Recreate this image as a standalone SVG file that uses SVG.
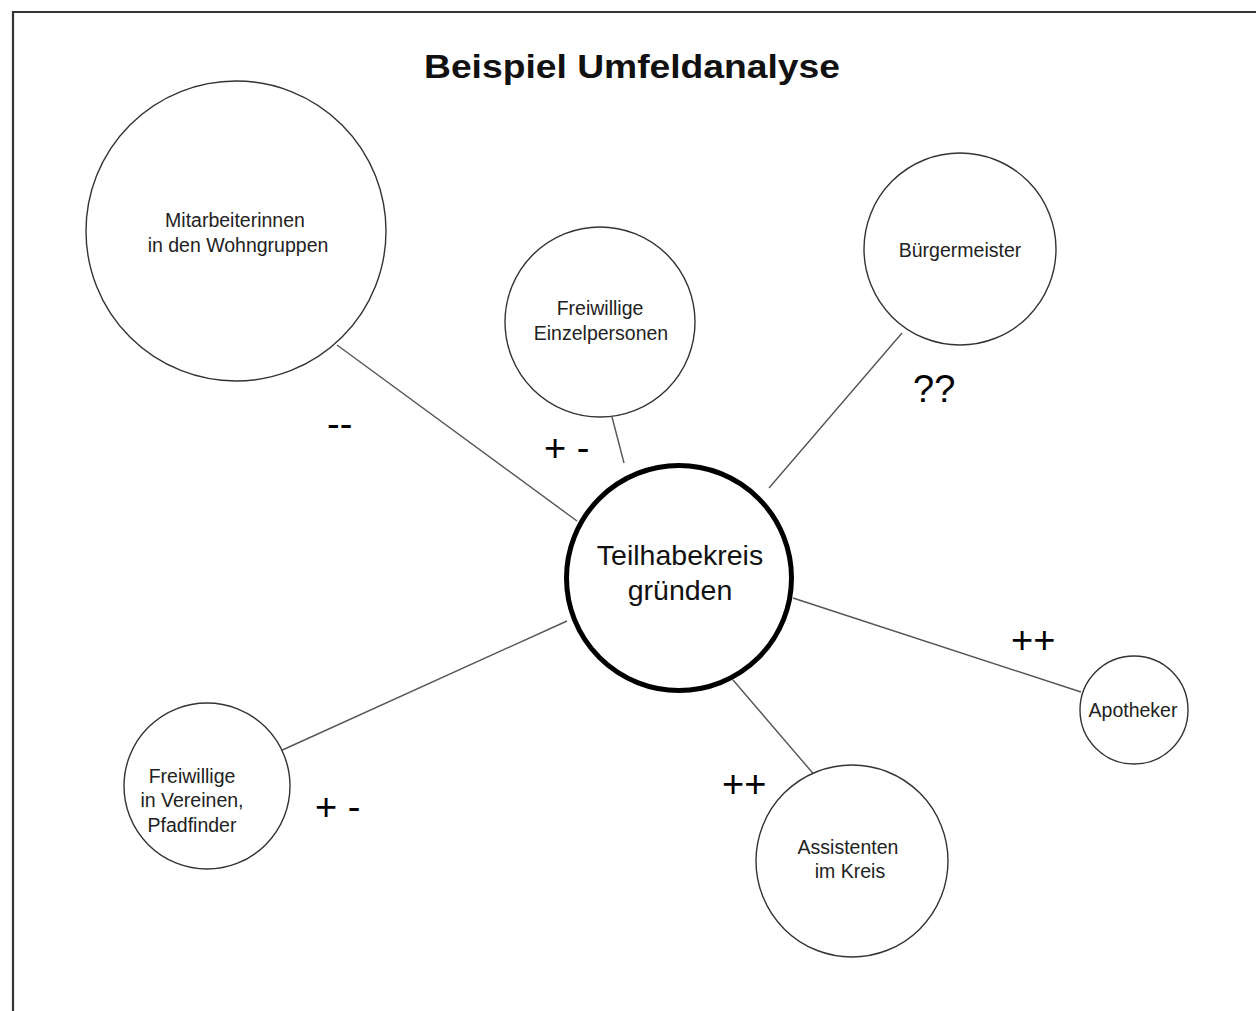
<svg xmlns="http://www.w3.org/2000/svg" width="1256" height="1011" viewBox="0 0 1256 1011">
<style>
.node{fill:#fff;stroke:#333;stroke-width:1.4}
.center{fill:#fff;stroke:#000;stroke-width:5}
.lbl{font-family:"Liberation Sans",Arial,sans-serif;font-size:19.5px;fill:#222;text-anchor:middle}
.big{font-family:"Liberation Sans",Arial,sans-serif;font-size:28.5px;fill:#111;text-anchor:middle}
.rate{font-family:"Liberation Sans",Arial,sans-serif;font-size:38px;fill:#000}
.title{font-family:"Liberation Sans",Arial,sans-serif;font-size:33px;font-weight:bold;fill:#111}
.conn line{stroke:#555;stroke-width:1.4}
</style>
<rect width="1256" height="1011" fill="#fff"/>
<path d="M13,1011 V12 H1256" fill="none" stroke="#333" stroke-width="2.2"/>
<text class="title" x="424" y="78" textLength="416" lengthAdjust="spacingAndGlyphs">Beispiel Umfeldanalyse</text>
<g id="connectors" class="conn">
<line x1="337" y1="345" x2="577" y2="521"/>
<line x1="612" y1="417" x2="624" y2="463"/>
<line x1="902" y1="333" x2="769" y2="488"/>
<line x1="793" y1="598" x2="1081" y2="692"/>
<line x1="733" y1="680" x2="817" y2="778"/>
<line x1="278" y1="752" x2="567" y2="621"/>
</g>
<g id="node-mitarbeiterinnen">
<circle class="node" cx="236" cy="231" r="150"/>
<text class="lbl" x="235" y="227">Mitarbeiterinnen</text>
<text class="lbl" x="238" y="252">in den Wohngruppen</text>
</g>
<g id="node-einzelpersonen">
<circle class="node" cx="600" cy="322" r="95"/>
<text class="lbl" x="600" y="315">Freiwillige</text>
<text class="lbl" x="601" y="340">Einzelpersonen</text>
</g>
<g id="node-buergermeister">
<circle class="node" cx="960" cy="249" r="96"/>
<text class="lbl" x="960" y="257">Bürgermeister</text>
</g>
<g id="node-center">
<circle class="center" cx="679" cy="578" r="112.5"/>
<text class="big" x="680" y="565">Teilhabekreis</text>
<text class="big" x="680" y="600">gründen</text>
</g>
<g id="node-apotheker">
<circle class="node" cx="1134" cy="710" r="54"/>
<text class="lbl" x="1133" y="717">Apotheker</text>
</g>
<g id="node-vereine">
<circle class="node" cx="207" cy="786" r="83"/>
<text class="lbl" x="192" y="783">Freiwillige</text>
<text class="lbl" x="192" y="807">in Vereinen,</text>
<text class="lbl" x="192" y="832">Pfadfinder</text>
</g>
<g id="node-assistenten">
<circle class="node" cx="852" cy="861" r="96"/>
<text class="lbl" x="848" y="854">Assistenten</text>
<text class="lbl" x="850" y="878">im Kreis</text>
</g>
<g id="ratings">
<text class="rate" x="327" y="437">--</text>
<text class="rate" x="544" y="461">+ -</text>
<text class="rate" x="913" y="402">??</text>
<text class="rate" x="1011" y="653">++</text>
<text class="rate" x="722" y="797">++</text>
<text class="rate" x="315" y="820">+ -</text>
</g>
</svg>
